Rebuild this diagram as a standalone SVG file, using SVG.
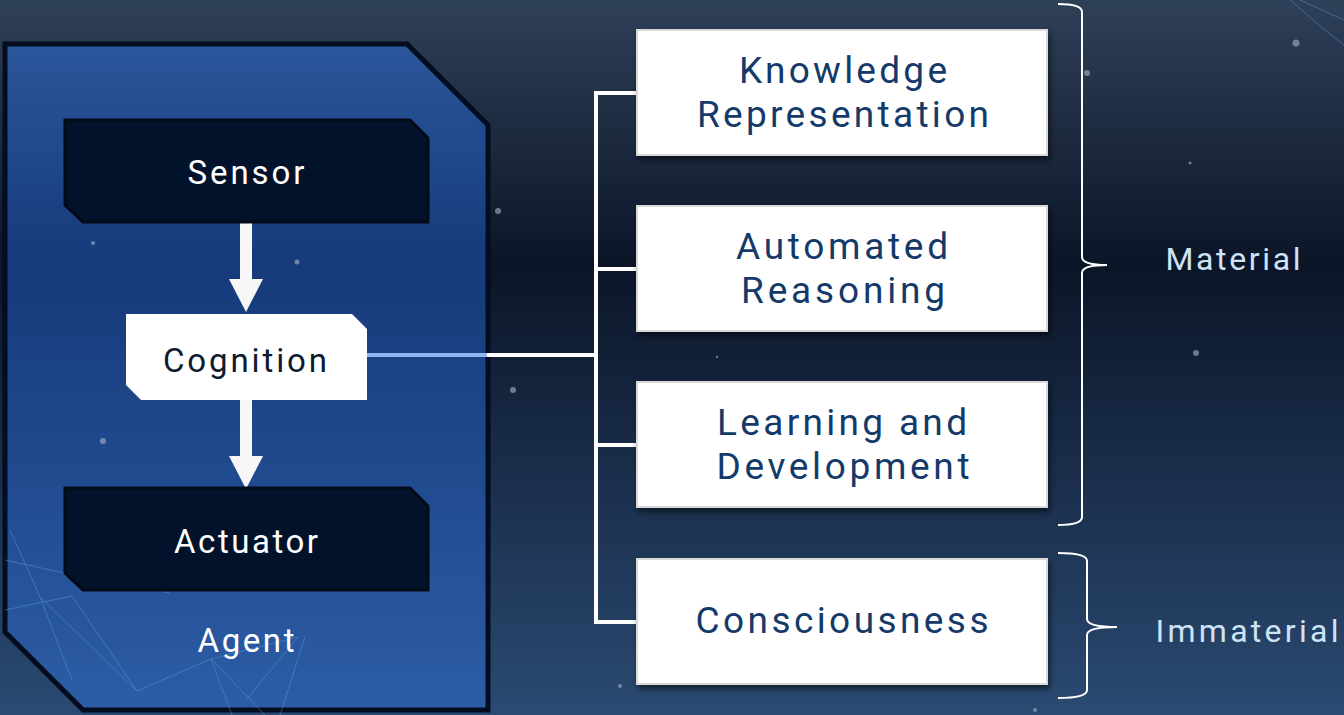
<svg xmlns="http://www.w3.org/2000/svg" width="1344" height="715" viewBox="0 0 1344 715">
<defs>
<linearGradient id="bg" x1="0" y1="0" x2="0" y2="1">
<stop offset="0" stop-color="#2f4059"/>
<stop offset="0.37" stop-color="#0b1528"/>
<stop offset="1" stop-color="#2b4a72"/>
</linearGradient>
<linearGradient id="agentFill" gradientUnits="userSpaceOnUse" x1="0" y1="44" x2="0" y2="710">
<stop offset="0" stop-color="#2a569b"/>
<stop offset="0.33" stop-color="#163a7b"/>
<stop offset="1" stop-color="#2c5da5"/>
</linearGradient>
<filter id="shadow" x="-10%" y="-20%" width="120%" height="150%">
<feDropShadow dx="2" dy="4" stdDeviation="3" flood-color="#000" flood-opacity="0.55"/>
</filter>
<style>
.lbl{font-family:Roboto,"Liberation Sans",sans-serif;text-anchor:middle}
.white{fill:#ffffff;font-size:33px}
.topic{fill:#143a6a;font-size:37px}
.side{fill:#cfe3f5;font-size:32px}
.dark{fill:#02122b;stroke:#020a18;stroke-width:3}
.tbox{fill:#ffffff;stroke:#d9d9d9;stroke-width:2;filter:url(#shadow)}
.wire{fill:none;stroke:#ffffff;stroke-width:4}
.brace{fill:none;stroke:#ffffff;stroke-width:2}
.star{fill:#aab6c8;opacity:0.6}
.net{stroke:#4fa3e0;stroke-width:1;opacity:0.45;fill:none}
</style>
</defs>
<rect width="1344" height="715" fill="url(#bg)"/>
<g id="background-decor">
<path class="net" d="M1290 0 L1325 30 L1344 45 M1300 0 L1344 20"/>
<circle class="star" cx="498" cy="211" r="3"/>
<circle class="star" cx="513" cy="390" r="3"/>
<circle class="star" cx="1196" cy="353" r="3"/>
<circle class="star" cx="1087" cy="73" r="3"/>
<circle class="star" cx="1296" cy="43" r="3.5"/>
<circle class="star" cx="1190" cy="163" r="1.5"/>
<circle class="star" cx="1035" cy="710" r="2"/>
<circle class="star" cx="717" cy="357" r="1.2"/>
<circle class="star" cx="8" cy="440" r="2"/>
<circle class="star" cx="620" cy="686" r="2"/>
</g>
<g id="agent">
<polygon points="5,44 407,44 488,125 488,710 83,710 5,632" fill="url(#agentFill)" stroke="#030d1f" stroke-width="5"/>
<path class="net" d="M10 530 L40 597 L72 680 M5 610 L72 596 L137 691 L211 659 L298 637 M40 597 L137 691 M5 560 L64 573 L170 593 M211 659 L232 715 M211 659 L265 715 M305 637 L280 715 M298 637 L246 700"/>
<circle class="star" cx="103" cy="441" r="3"/>
<circle class="star" cx="297" cy="262" r="2.5"/>
<circle class="star" cx="93" cy="243" r="2"/>
<text class="lbl white" x="246" y="652" textLength="97" lengthAdjust="spacing">Agent</text>
</g>
<g id="connectors">
<line x1="367" y1="355" x2="487" y2="355" stroke="#8fb6ee" stroke-width="4"/>
<line class="wire" x1="487" y1="355" x2="597" y2="355"/>
<path class="wire" d="M637 93 H596 V622 H637 M596 269 H637 M596 445 H637"/>
<rect x="240" y="222" width="12" height="58" fill="#f7f7f7"/>
<polygon points="229,279 263,279 246,312" fill="#f7f7f7"/>
<rect x="240" y="400" width="12" height="57" fill="#f7f7f7"/>
<polygon points="229,456 263,456 246,489" fill="#f7f7f7"/>
<path class="brace" d="M1058 4 Q1082 4 1082 12 V257 Q1082 265 1107 265 Q1082 265 1082 273 V517 Q1082 525 1058 525"/>
<path class="brace" d="M1058 553 Q1087 553 1087 561 V619 Q1087 627 1117 627 Q1087 627 1087 635 V690 Q1087 698 1058 698"/>
</g>
<g id="sensor">
<polygon class="dark" points="65,120 410,120 428,138 428,222 83,222 65,205"/>
<text class="lbl white" x="246" y="184" textLength="117" lengthAdjust="spacing">Sensor</text>
</g>
<g id="cognition">
<polygon points="126,314 352,314 367,329 367,400 141,400 126,385" fill="#ffffff"/>
<text class="lbl" x="245" y="372" fill="#0d1a30" font-size="33" textLength="164" lengthAdjust="spacing">Cognition</text>
</g>
<g id="actuator">
<polygon class="dark" points="65,488 410,488 428,506 428,590 83,590 65,573"/>
<text class="lbl white" x="246" y="553" textLength="144" lengthAdjust="spacing">Actuator</text>
</g>
<g id="knowledge-representation">
<rect class="tbox" x="637" y="30" width="410" height="125"/>
<text class="lbl topic"><tspan x="843" y="83" textLength="208" lengthAdjust="spacing">Knowledge</tspan><tspan x="843" y="127" textLength="292" lengthAdjust="spacing">Representation</tspan></text>
</g>
<g id="automated-reasoning">
<rect class="tbox" x="637" y="206" width="410" height="125"/>
<text class="lbl topic"><tspan x="842" y="259" textLength="212" lengthAdjust="spacing">Automated</tspan><tspan x="843" y="303" textLength="204" lengthAdjust="spacing">Reasoning</tspan></text>
</g>
<g id="learning-development">
<rect class="tbox" x="637" y="382" width="410" height="125"/>
<text class="lbl topic"><tspan x="842" y="435" textLength="250" lengthAdjust="spacing">Learning and</tspan><tspan x="843" y="479" textLength="253" lengthAdjust="spacing">Development</tspan></text>
</g>
<g id="consciousness">
<rect class="tbox" x="637" y="559" width="410" height="125"/>
<text class="lbl topic" x="842" y="633" textLength="293" lengthAdjust="spacing">Consciousness</text>
</g>
<g id="material">
<text class="lbl side" x="1233" y="270" textLength="135" lengthAdjust="spacing">Material</text>
</g>
<g id="immaterial">
<text class="lbl side" x="1247" y="642" textLength="183" lengthAdjust="spacing">Immaterial</text>
</g>
</svg>
